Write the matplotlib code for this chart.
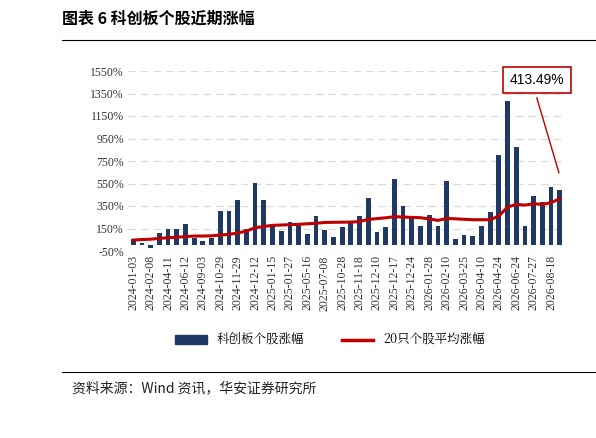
import matplotlib.pyplot as plt
from matplotlib.lines import Line2D
from matplotlib.patches import Patch

CJK = ['Noto Sans CJK SC', 'DejaVu Sans']
plt.rcParams['font.family'] = CJK

dates = ['2024-01-03', '2024-02-08', '2024-04-11', '2024-06-12', '2024-09-03',
         '2024-10-29', '2024-11-29', '2024-12-12', '2025-01-15', '2025-01-27',
         '2025-05-16', '2025-07-08', '2025-10-28', '2025-11-18', '2025-12-10',
         '2025-12-17', '2025-12-24', '2026-01-28', '2026-02-10', '2026-03-25',
         '2026-04-10', '2026-04-24', '2026-06-24', '2026-07-27', '2026-08-18']

stock_gain = [59, 24, -20, 113, 148, 148, 190, 68, 38, 68,
              305, 305, 400, 148, 551, 406, 172, 130, 207, 187,
              101, 261, 136, 71, 166, 207, 261, 424, 119, 160,
              590, 353, 243, 172, 267, 172, 572, 53, 95, 83,
              172, 296, 806, 1286, 871, 172, 436, 388, 519, 489]

avg_gain = [47, 52, 55, 62, 68, 72, 78, 83, 83, 85,
            92, 98, 110, 127, 157, 168, 178, 181, 184, 187,
            192, 196, 204, 205, 206, 207, 212, 231, 238, 245,
            255, 252, 249, 246, 235, 222, 240, 236, 232, 228,
            228, 228, 261, 341, 364, 358, 370, 364, 380, 413.49]

fig = plt.figure(figsize=(5.96, 4.38), dpi=100)
ax = fig.add_axes([128 / 596, 1 - 251 / 438, 437 / 596, 180 / 438])

x = list(range(len(stock_gain)))
ax.bar(x, stock_gain, width=0.55, color='#1f3864', zorder=2)
ax.plot(x, avg_gain, color='#c00000', lw=2.2, zorder=3)

ax.set_ylim(-50, 1550)
ax.set_xlim(-0.6, len(x) - 0.4)
yt = list(range(-50, 1551, 200))
ax.set_yticks(yt)
ax.set_yticklabels([f'{v}%' for v in yt], family='Liberation Serif', fontsize=8.5, color='#333333')
ax.set_xticks(x[::2])
ax.set_xticklabels(dates, rotation=90, family='Liberation Serif', fontsize=8.5, color='#333333')
ax.tick_params(length=0, pad=3)
ax.yaxis.grid(True, color='#d9d9d9', ls=(0, (6, 4)), lw=0.9, zorder=0)
for s in ax.spines.values():
    s.set_visible(False)

# annotation box
fig.text(537 / 596, 1 - 80 / 438, f'{avg_gain[-1]:.2f}%', ha='center', va='center', fontsize=10,
         family='Liberation Sans',
         bbox=dict(boxstyle='square,pad=0.45', fc='white', ec='#c00000', lw=1.2))
ax.annotate('', xy=(len(x) - 1, 620), xytext=(536 / 596, 1 - 95 / 438),
            textcoords='figure fraction',
            arrowprops=dict(arrowstyle='-', color='#c00000', lw=1))

handles = [Patch(color='#1f3864'), Line2D([], [], color='#c00000', lw=2.5)]
fig.legend(handles, ['科创板个股涨幅', '20只个股平均涨幅'], loc='center',
           bbox_to_anchor=(330 / 596, 1 - 340 / 438), ncol=2, frameon=False,
           fontsize=9, handlelength=2.5, columnspacing=3, prop={'family': ['Noto Serif CJK SC', 'Noto Sans CJK SC'], 'size': 9})

fig.text(62 / 596, 1 - 19 / 438, '图表 6 科创板个股近期涨幅', fontsize=11.5, weight='bold', va='center')
fig.add_artist(Line2D([62 / 596, 1], [1 - 40 / 438] * 2, color='black', lw=0.8))
fig.add_artist(Line2D([62 / 596, 1], [1 - 372 / 438] * 2, color='black', lw=0.8))
fig.text(72 / 596, 1 - 388 / 438, '资料来源：Wind 资讯，华安证券研究所', fontsize=10, va='center', color='#222222')

fig.savefig('out.png', dpi=100)
